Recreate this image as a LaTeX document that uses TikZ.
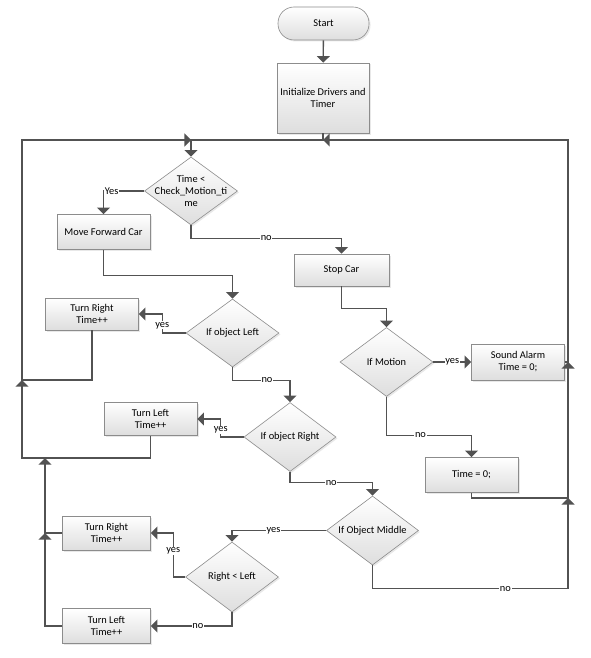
\documentclass[tikz,border=0pt]{standalone}
\usepackage{fontspec}
\setmainfont{Carlito}
\usetikzlibrary{shapes,arrows,positioning,shadows}

\begin{document}
\begin{tikzpicture}[x=1pt, y=-1pt, font=\fontsize{10.4}{12}\selectfont]

  \tikzset{main node/.style={rectangle, draw=black!45, line width=0.6pt,
  		top color=white, bottom color=black!13, text centered, align=center,
  		minimum width=93pt, minimum height=33pt, inner sep=2pt,
  		drop shadow={opacity=0.18, shadow xshift=1.5pt, shadow yshift=-1.5pt}}, }
  \tikzset{main dec/.style={main node, diamond, minimum width=93pt,
  		minimum height=69pt, inner sep=0pt}, }
  \tikzset{dec text/.style={align=center, inner sep=0pt}, }
  \tikzset{linea/.style={-triangle 90, draw=black!68, line width=1.3pt}, }
  \tikzset{etiq/.style={fill=white, inner sep=0.6pt}, }

  \useasboundingbox (0,0) rectangle (590,658);

    \node[main node, rounded corners=16pt, minimum width=91pt] (1) at (323.5,23.5) {Start};
    \node[main node, minimum width=92pt, minimum height=70pt] (2) at (323,98) {Initialize Drivers and\\Timer};
    \node[main dec, minimum height=68pt, label={[dec text]center:Time <\\Check\_Motion\_ti\\me}] (3) at (191,191) {};
    \node[main node, minimum height=35pt] (4) at (103.5,232) {Move Forward Car};
    \node[main node, minimum width=95pt, minimum height=32pt] (5) at (341.5,270) {Stop Car};
    \node[main dec, minimum height=68pt, label={[dec text]center:If object Left}] (6) at (232.5,333) {};
    \node[main node, minimum height=32pt] (7) at (92,314) {Turn Right\\Time++};
    \node[main dec, label={[dec text]center:If Motion}] (8) at (386.5,362) {};
    \node[main node, minimum height=36pt] (9) at (518,362) {Sound Alarm\\Time = 0;};
    \node[main dec, minimum width=92pt, label={[dec text]center:If object Right}] (10) at (290,437) {};
    \node[main node] (11) at (150.5,419) {Turn Left\\Time++};
    \node[main node, minimum height=35pt] (12) at (471.5,475) {Time = 0;};
    \node[main dec, minimum width=92pt, label={[dec text]center:If Object Middle}] (13) at (372.5,530.5) {};
    \node[main dec, minimum height=70pt, label={[dec text]center:Right < Left}] (14) at (232,577) {};
    \node[main node, minimum width=88pt, minimum height=34pt] (15) at (106.5,533) {Turn Right\\Time++};
    \node[main node, minimum width=88pt, minimum height=35pt] (16) at (106.5,626) {Turn Left\\Time++};
%
    \coordinate (j1) at (22,380);
    \coordinate (j2) at (45,458);
    \coordinate (j3) at (45,533);
    \coordinate (j4) at (568,362);
    \coordinate (j5) at (568,498);
    \coordinate (j6) at (323,140);
    \coordinate (j7) at (191,140);
%
  \draw[linea] (1) -- (2);
  \draw[linea] (2.south) -- (j6) -- (j7) -- (3.north);
  \draw[linea] (3.west) -| node[etiq, pos=0.4] {Yes} (4.north);
  \draw[linea] (3.south) -- ++(0,13) -| node[etiq, pos=0.25] {no} (5.north);
  \draw[linea] (4.south) -- ++(0,26) -| (6.north);
  \draw[linea] (6.west) -- ++(-23.5,0) |- node[etiq, pos=0.2] {yes} (7.east);
  \draw[linea] (6.south) -- ++(0,13) -| node[etiq, pos=0.3] {no} (10.north);
  \draw[linea] (7.south) |- (j1) |- (j7);
  \draw[linea] (5.south) -- ++(0,22) -| (8.north);
  \draw[linea] (8.east) -- node[etiq] {yes} (9.west);
  \draw[linea] (8.south) -- ++(0,38.5) -| node[etiq, pos=0.2] {no} (12.north);
  \draw[linea] (9.east) -- (j4) |- (j6);
  \draw[linea] (12.south) |- (j5) -- (j4);
  \draw[linea] (10.west) -- ++(-23,0) |- node[etiq, pos=0.2] {yes} (11.east);
  \draw[linea] (10.south) -- ++(0,11) -| node[etiq, pos=0.25] {no} (13.north);
  \draw[linea] (11.south) |- (j2) -- (j1 |- j2) -- (j1);
  \draw[linea] (13.south) -- ++(0,23.5) -| node[etiq, pos=0.34] {no} (j5);
  \draw[linea] (13.west) -| node[etiq, pos=0.28] {yes} (14.north);
  \draw[linea] (14.west) -- ++(-12,0) |- node[etiq, pos=0.3] {yes} (15.east);
  \draw[linea] (14.south) |- node[etiq, pos=0.71] {no} (16.east);
  \draw[linea] (16.west) -| (j3);
  \draw[linea] (15.west) -- (j3) -- (j2);
%
\end{tikzpicture}
\end{document}
